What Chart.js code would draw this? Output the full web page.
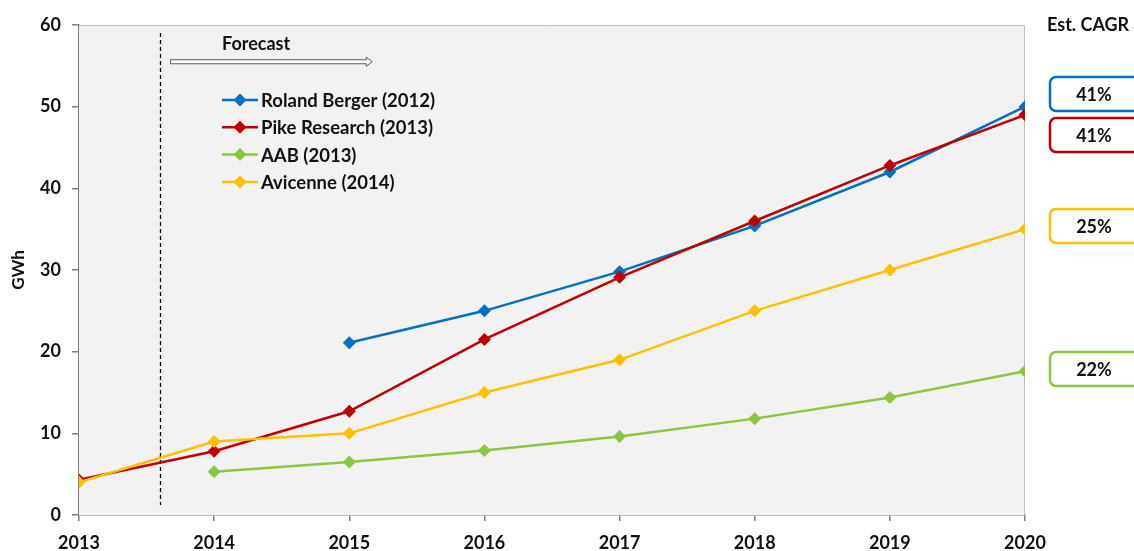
<!DOCTYPE html>
<html lang="en">
<head>
    <meta charset="UTF-8">
    <title>GWh forecasts</title>
    <script src="https://cdn.jsdelivr.net/npm/chart.js"></script>
    <style>
        body { margin: 0; background: #fff; }
        #wrap { width: 1134px; height: 551px; }
    </style>
</head>
<body>
    <div id="wrap"><canvas id="chartCanvas" width="1134" height="551"></canvas></div>

    <script>
        const years = [2013, 2014, 2015, 2016, 2017, 2018, 2019, 2020];
        const seriesNames = ['Roland Berger (2012)', 'Pike Research (2013)', 'AAB (2013)', 'Avicenne (2014)'];
        const rolandBerger = [null, null, 21.1, 25.0, 29.8, 35.4, 42.0, 50.0];
        const pikeResearch = [4.3, 7.8, 12.7, 21.5, 29.1, 36.0, 42.8, 49.0];
        const aab = [null, 5.3, 6.5, 7.9, 9.6, 11.8, 14.4, 17.6];
        const avicenne = [4.0, 9.0, 10.0, 15.0, 19.0, 25.0, 30.0, 35.0];
        // CAGR boxes, top to bottom: Roland Berger, Pike, Avicenne, AAB
        const cagrLabels = ['41%', '41%', '25%', '22%'];
        const cagrSeries = [0, 1, 3, 2];
        const yTicks = [0, 10, 20, 30, 40, 50, 60];
        const forecastStart = 2013.6;

        const colors = ['#0070C0', '#C00000', '#8CC63E', '#FFC000'];
        const FONT = 'Lato, "Open Sans", sans-serif';
        const TXT = '#111';

        function toPoints(vals) {
            return years.map((y, i) => ({ x: y, y: vals[i] })).filter(p => p.y !== null);
        }

        const allSeries = [rolandBerger, pikeResearch, aab, avicenne];
        const drawOrder = [3, 2, 1, 0];

        const datasets = allSeries.map((vals, i) => ({
            label: seriesNames[i],
            data: toPoints(vals),
            borderColor: colors[i],
            backgroundColor: colors[i],
            borderWidth: 2.5,
            pointStyle: 'rectRot',
            pointRadius: 6.5,
            pointHoverRadius: 6.5,
            pointBorderWidth: 0,
            tension: 0,
            order: drawOrder[i]
        }));

        // background, forecast divider, arrow, legend and CAGR boxes
        const extras = {
            id: 'extras',
            beforeDatasetsDraw(chart) {
                const { ctx, chartArea: a, scales: { x, y } } = chart;
                ctx.save();
                ctx.fillStyle = '#F2F2F2';
                ctx.fillRect(a.left, a.top, a.right - a.left, a.bottom - a.top);
                ctx.strokeStyle = '#BFBFBF';
                ctx.lineWidth = 1;
                ctx.beginPath();
                ctx.moveTo(a.left, a.top + 0.5);
                ctx.lineTo(a.right - 0.5, a.top + 0.5);
                ctx.lineTo(a.right - 0.5, a.bottom);
                ctx.stroke();

                // dashed forecast divider
                const fx = Math.round(x.getPixelForValue(forecastStart)) + 0.5;
                ctx.strokeStyle = '#000';
                ctx.lineWidth = 1.3;
                ctx.setLineDash([4, 3]);
                ctx.beginPath();
                ctx.moveTo(fx, a.top + 8);
                ctx.lineTo(fx, a.bottom - 10);
                ctx.stroke();
                ctx.setLineDash([]);

                // forecast arrow
                const ax0 = fx + 10, ax1 = x.getPixelForValue(2015.17);
                const ay = y.getPixelForValue(55.5);
                ctx.fillStyle = '#fff';
                ctx.strokeStyle = '#595959';
                ctx.lineWidth = 1;
                ctx.beginPath();
                ctx.moveTo(ax0, ay - 2);
                ctx.lineTo(ax1 - 6, ay - 2);
                ctx.lineTo(ax1 - 6, ay - 4.5);
                ctx.lineTo(ax1, ay);
                ctx.lineTo(ax1 - 6, ay + 4.5);
                ctx.lineTo(ax1 - 6, ay + 2);
                ctx.lineTo(ax0, ay + 2);
                ctx.closePath();
                ctx.fill();
                ctx.stroke();

                ctx.fillStyle = TXT;
                ctx.font = 'bold 18px ' + FONT;
                ctx.textAlign = 'left';
                ctx.textBaseline = 'middle';
                ctx.fillText('Forecast', 222, ay - 18);
                ctx.restore();
            },
            afterDatasetsDraw(chart) {
                const { ctx, chartArea: a } = chart;
                ctx.save();
                // legend
                const lx = a.left + 143, ly = a.top + 75, gap = 27.3;
                seriesNames.forEach((name, i) => {
                    const yy = ly + i * gap;
                    ctx.strokeStyle = colors[i];
                    ctx.fillStyle = colors[i];
                    ctx.lineWidth = 2.5;
                    ctx.beginPath();
                    ctx.moveTo(lx, yy);
                    ctx.lineTo(lx + 36, yy);
                    ctx.stroke();
                    ctx.beginPath();
                    ctx.moveTo(lx + 18, yy - 6.5);
                    ctx.lineTo(lx + 24.5, yy);
                    ctx.lineTo(lx + 18, yy + 6.5);
                    ctx.lineTo(lx + 11.5, yy);
                    ctx.closePath();
                    ctx.fill();
                    ctx.fillStyle = TXT;
                    ctx.font = 'bold 18.5px ' + FONT;
                    ctx.textAlign = 'left';
                    ctx.textBaseline = 'middle';
                    ctx.fillText(name, lx + 39, yy + 1);
                });

                // CAGR column
                ctx.fillStyle = TXT;
                ctx.font = 'bold 18px ' + FONT;
                ctx.textAlign = 'left';
                ctx.fillText('Est. CAGR', 1047, 25);
                const boxTops = [77, 118, 209, 352];
                cagrLabels.forEach((lab, i) => {
                    const bx = 1050, by = boxTops[i], bw = 96, bh = 34;
                    ctx.fillStyle = '#fff';
                    ctx.strokeStyle = colors[cagrSeries[i]];
                    ctx.lineWidth = 2.5;
                    ctx.beginPath();
                    ctx.roundRect(bx, by, bw, bh, 6);
                    ctx.fill();
                    ctx.stroke();
                    ctx.fillStyle = TXT;
                    ctx.textAlign = 'center';
                    ctx.fillText(lab, 1094, by + bh / 2 + 1);
                });
                ctx.restore();
            }
        };

        const tickFont = { family: FONT, size: 18, weight: 'bold' };
        const ctx = document.getElementById('chartCanvas').getContext('2d');
        const chart = new Chart(ctx, {
            type: 'line',
            data: { datasets },
            options: {
                responsive: false,
                animation: false,
                layout: { padding: { top: 25, right: 109, bottom: 0, left: 0 } },
                plugins: { legend: { display: false }, tooltip: { enabled: false } },
                scales: {
                    x: {
                        type: 'linear',
                        min: 2013,
                        max: 2020,
                        afterFit(s) { s.height = 36; },
                        afterBuildTicks(s) { s.ticks = years.map(v => ({ value: v })); },
                        grid: { display: true, drawOnChartArea: false, drawTicks: true, tickLength: 6, color: '#7F7F7F', lineWidth: 1.5 },
                        border: { color: '#7F7F7F', width: 1.5 },
                        ticks: {
                            color: TXT,
                            font: tickFont,
                            padding: 11,
                            maxRotation: 0,
                            callback: v => String(v)
                        }
                    },
                    y: {
                        min: 0,
                        max: 60,
                        afterFit(s) { s.width = 79; },
                        afterBuildTicks(s) { s.ticks = yTicks.map(v => ({ value: v })); },
                        grid: { display: true, drawOnChartArea: false, drawTicks: true, tickLength: 7, color: '#7F7F7F', lineWidth: 1.5 },
                        border: { color: '#7F7F7F', width: 1.5 },
                        title: {
                            display: true,
                            text: 'GWh',
                            color: TXT,
                            font: { family: FONT, size: 17, weight: 'bold' },
                            padding: { top: 8, bottom: 0 }
                        },
                        ticks: {
                            color: TXT,
                            font: tickFont,
                            padding: 11
                        }
                    }
                }
            },
            plugins: [extras]
        });
    </script>
</body>
</html>
